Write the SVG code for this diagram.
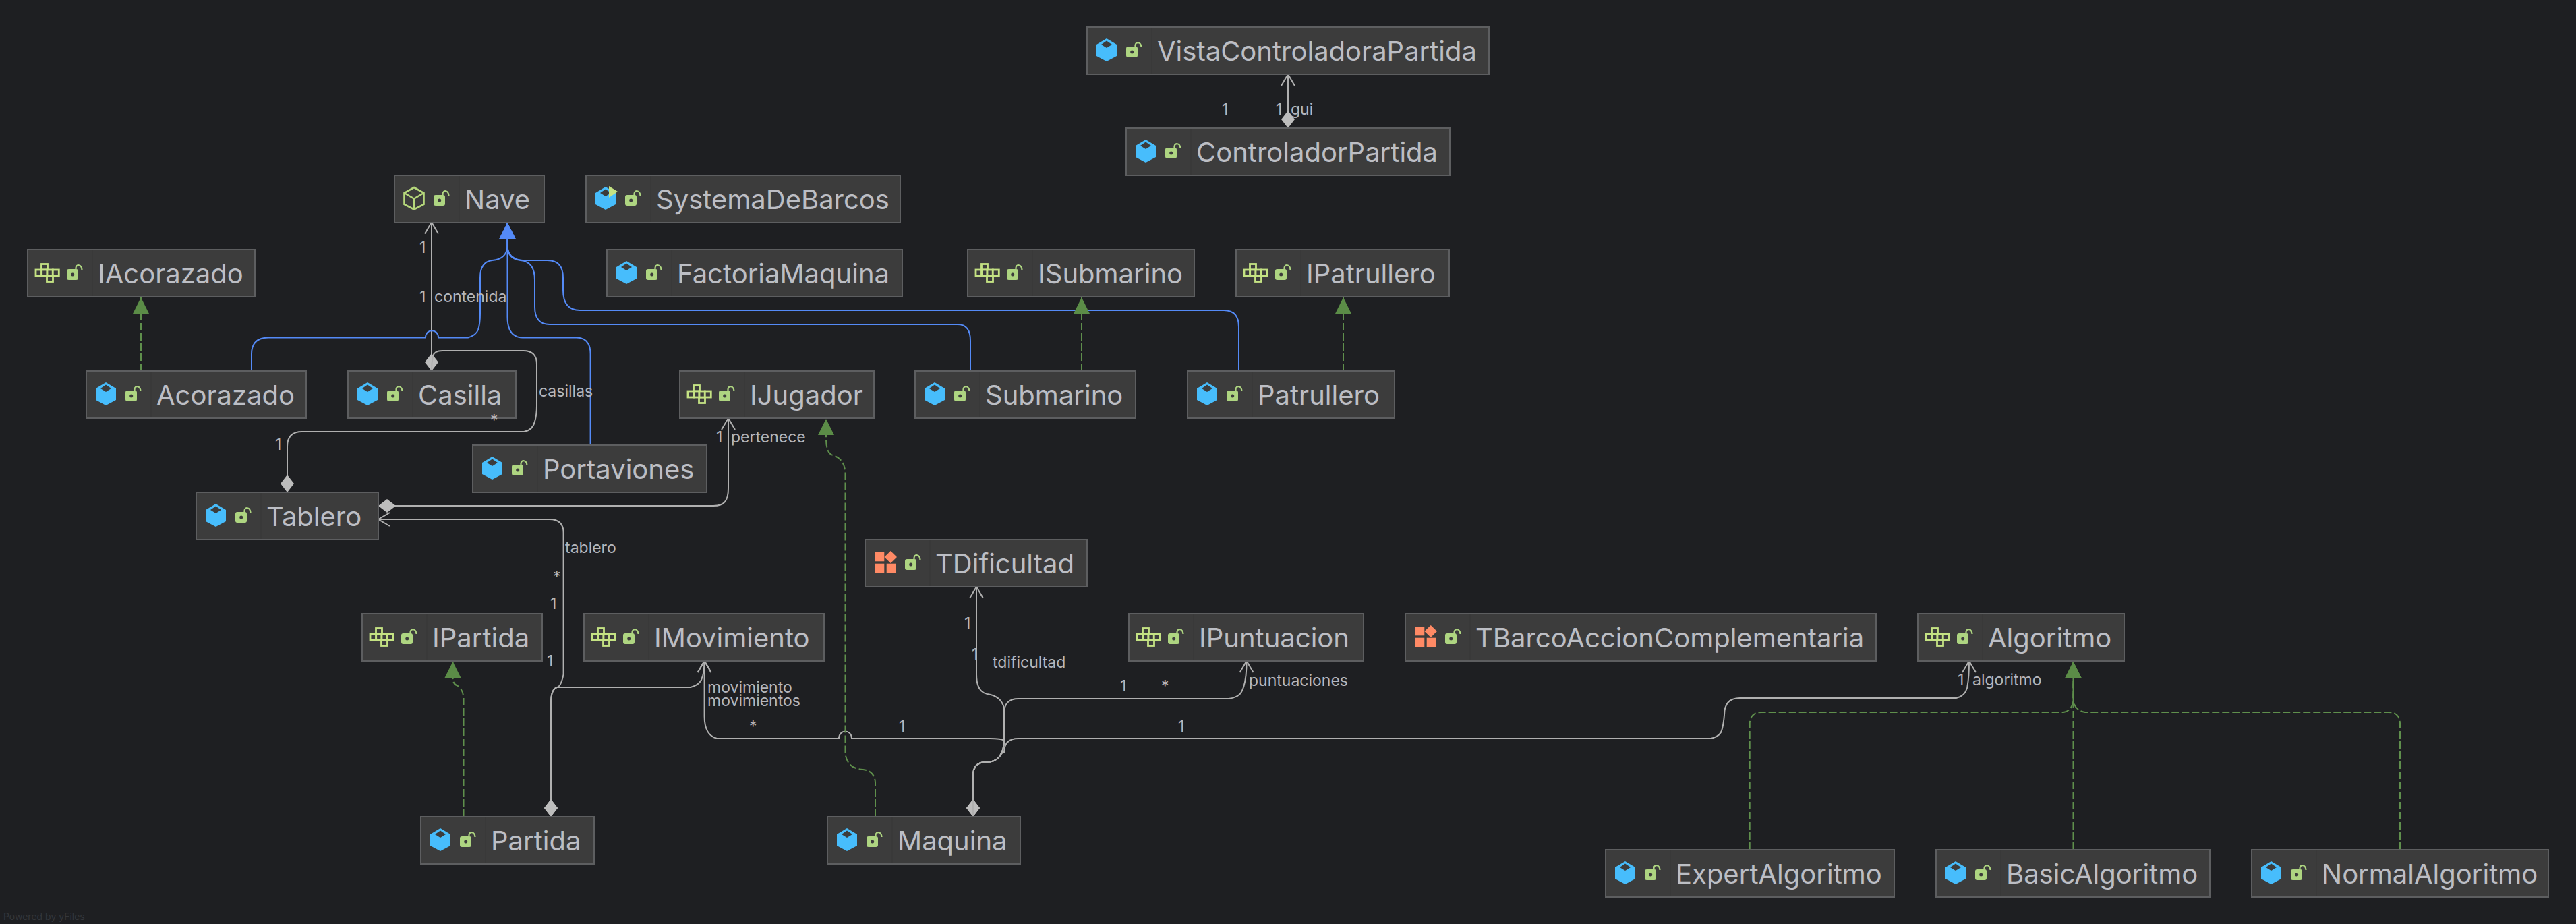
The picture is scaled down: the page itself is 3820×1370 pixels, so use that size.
<svg xmlns="http://www.w3.org/2000/svg" xmlns:xlink="http://www.w3.org/1999/xlink" width="3820" height="1370" viewBox="0 0 3820 1370">
<style>
.bg{fill:#1e1f22}
.box{fill:#3c3c3c;stroke:#5d5e60;stroke-width:2}
.sep{stroke:#383838;stroke-width:1.5}
.name{font:400 40px Inter,"Liberation Sans",sans-serif;fill:#bcbec4}
.lab{font:400 23px Inter,"Liberation Sans",sans-serif;fill:#b4b6bc}
.wm{font:400 14px Inter,"Liberation Sans",sans-serif;fill:#34363a}
.assoc{fill:none;stroke:#b0b0b0;stroke-width:2}
.inh{fill:none;stroke:#548af7;stroke-width:2}
.real{fill:none;stroke:#5f8f4c;stroke-width:2;stroke-dasharray:11 4}
</style>
<defs>
<marker id="open" markerUnits="userSpaceOnUse" markerWidth="24" markerHeight="26" viewBox="0 -13 24 26" refX="20" refY="0" orient="auto"><path d="M3,-10 L20,0 L3,10" fill="none" stroke="#b0b0b0" stroke-width="2"/></marker>
<marker id="dia" markerUnits="userSpaceOnUse" markerWidth="30" markerHeight="24" viewBox="0 -12 30 24" refX="1" refY="0" orient="auto"><path d="M1,0 L14,-10 L27,0 L14,10Z" fill="#bdbdbd"/></marker>
<marker id="tblue" markerUnits="userSpaceOnUse" markerWidth="26" markerHeight="26" viewBox="0 -13 26 26" refX="24" refY="0" orient="auto"><path d="M0,-12 L24,0 L0,12Z" fill="#548af7"/></marker>
<marker id="tgreen" markerUnits="userSpaceOnUse" markerWidth="26" markerHeight="26" viewBox="0 -13 26 26" refX="24" refY="0" orient="auto"><path d="M0,-12 L24,0 L0,12Z" fill="#5b8c47"/></marker>
<g id="lock"><rect x="58" y="29" width="17" height="16" rx="3" fill="#aed581"/><circle cx="66.7" cy="37" r="2.5" fill="#3c3c3c"/><path d="M71.5,29 V27 C72,21.5 80,21.5 80.5,30" fill="none" stroke="#aed581" stroke-width="2.2"/></g>
<g id="class"><path d="M29,17 L44,26 V43 L29,51 L14,43 V26Z" fill="#47bdfc"/><path d="M29,20.5 L37,26 L29,31 L21,26Z" fill="#3c3c3c"/><use href="#lock"/></g>
<g id="abstract"><path d="M29,18 L43.5,26 V43 L29,50.5 L14.5,43 V26Z M14.5,26 L29,34.5 L43.5,26 M29,34.5 V50.5" fill="none" stroke="#b5d77b" stroke-width="2.6"/><use href="#lock"/></g>
<g id="main"><path d="M29,17 L44,26 V43 L29,51 L14,43 V26Z" fill="#47bdfc"/><path d="M29,20.5 L37,26 L29,31 L21,26Z" fill="#3c3c3c"/><path d="M34,16 L47,24 L34,33Z" fill="#c4e283"/><use href="#lock"/></g>
<g id="iface"><g fill="#3c3c3c" stroke="#c4e283" stroke-width="2.8"><rect x="20.5" y="21.5" width="9" height="8.5"/><rect x="28.5" y="39" width="9" height="8.5"/><rect x="12" y="30" width="8.7" height="9"/><rect x="20.7" y="30" width="8.3" height="9"/><rect x="29" y="30" width="8.3" height="9"/><rect x="37.3" y="30" width="9" height="9"/></g><use href="#lock"/></g>
<g id="enum"><g fill="#ff8a65"><rect x="15" y="19" width="13.3" height="13.3"/><rect x="15" y="35.7" width="13.3" height="13.3"/><rect x="31.7" y="35.7" width="13.3" height="13.3"/><path d="M37.7,17 L47,26 L37.7,35 L28.4,26Z"/></g><use href="#lock" x="1"/></g>
</defs>
<rect class="bg" width="3820" height="1370"/>
<g id="connectors">
<path class="assoc" d="M1910,190 V110" marker-start="url(#dia)" marker-end="url(#open)"/>
<path class="assoc" d="M640,550 V329.5" marker-start="url(#dia)" marker-end="url(#open)"/>
<path class="assoc" d="M426,730 V662 Q426,640 448,640 H777 Q790,638 793,625 Q796,615 796,602 V540 Q796,520 776,520 H656 Q644,520 642,528 Q640,538 640,550" marker-start="url(#dia)"/>
<path class="assoc" d="M561,750 H1058 Q1070,750 1075,744 Q1080,738 1080,724 V620" marker-start="url(#dia)" marker-end="url(#open)"/>
<path class="assoc" d="M817,1211 V1042 Q817,1022 826,1019 Q832,1018 835.6,1000 V790 Q835.6,770 815,770 H561" marker-start="url(#dia)" marker-end="url(#open)"/>
<path class="assoc" d="M817,1211 V1042 Q817,1022 826,1019 H1024 Q1036,1016 1040,1008 Q1044.6,998 1044.6,980" marker-start="url(#dia)" marker-end="url(#open)"/>
<path class="assoc" d="M1443,1211 V1150 Q1443,1130 1462,1130 Q1476,1130 1482,1122 Q1489,1112 1489,1098 Q1485,1095 1468,1095 H1263 C1263,1081 1244,1081 1244,1095 H1063 Q1044.6,1090 1044.6,1062 V980" marker-start="url(#dia)" marker-end="url(#open)"/>
<path class="assoc" d="M1443,1211 V1150 Q1443,1130 1462,1130 Q1476,1130 1482,1122 Q1489,1112 1489,1098 V1050 Q1485,1032 1464,1029 Q1448,1026 1448,1000 V870" marker-start="url(#dia)" marker-end="url(#open)"/>
<path class="assoc" d="M1443,1211 V1150 Q1443,1130 1462,1130 Q1476,1130 1482,1122 Q1489,1112 1489,1098 V1056 Q1490,1036 1510,1036 H1822 Q1838,1034 1842,1024 Q1848.6,1010 1848.6,980" marker-end="url(#open)"/>
<path class="assoc" d="M1443,1211 V1150 Q1443,1130 1462,1130 Q1476,1130 1482,1122 Q1489,1112 1489,1116 Q1489,1095 1510,1095 H2537 Q2552,1092 2554,1080 Q2556,1072 2557,1060 Q2557,1035 2580,1035 H2901 Q2914,1032 2917,1020 Q2920,1006 2920,980" marker-end="url(#open)"/>
<path class="inh" d="M373,550 V525 Q373,500.5 398,500.5 H631 C631,486.7 650,486.7 650,500.5 H694 Q706,497 709,489 Q712,480 712,465 V412 Q712,388 730,386 Q752,384 752.5,364 V330" marker-end="url(#tblue)"/>
<path class="inh" d="M875.6,660 V525 Q875.6,500.5 855,500.5 H775 Q752.5,500 752.5,470 V330" marker-end="url(#tblue)"/>
<path class="inh" d="M1439,550 V505 Q1439,481 1420,481 H815 Q793,481 793,455 V415 Q793,388 772,386 Q752.5,384 752.5,364 V330" marker-end="url(#tblue)"/>
<path class="inh" d="M1837,550 V485 Q1837,460 1815,460 H860 Q835,460 835,430 V412 Q835,386 812,386 H775 Q752.5,384 752.5,364 V330" marker-end="url(#tblue)"/>
<path class="real" d="M209,550 V441" marker-end="url(#tgreen)"/>
<path class="real" d="M1604,550 V441" marker-end="url(#tgreen)"/>
<path class="real" d="M1992,550 V441" marker-end="url(#tgreen)"/>
<path class="real" d="M1298,1211 V1160 Q1297,1143 1280,1141 Q1256,1140 1253.5,1117 V700 Q1252,680 1235,675 Q1225,672 1225,650 V621" marker-end="url(#tgreen)"/>
<path class="real" d="M687.5,1211 V1034 Q686,1020 677,1016 Q671.5,1014 671.5,1004 V981" marker-end="url(#tgreen)"/>
<path class="real" d="M3074.5,1260 V981" marker-end="url(#tgreen)"/>
<path class="real" d="M2594.7,1260 V1072 Q2596,1056 2612,1056 H3060 Q3072,1054 3074.5,1040 V981" marker-end="url(#tgreen)"/>
<path class="real" d="M3559,1260 V1072 Q3558,1056 3542,1056 H3092 Q3078,1054 3074.5,1040 V981" marker-end="url(#tgreen)"/>
</g>
<g id="n-vista" transform="translate(1612,40)"><rect class="box" width="596" height="70"/><line class="sep" x1="96" x2="96" y1="1" y2="69"/><use href="#class"/><text class="name" x="104" y="49.5">VistaControladoraPartida</text></g>
<g id="n-controlador" transform="translate(1670,190)"><rect class="box" width="480" height="70"/><line class="sep" x1="96" x2="96" y1="1" y2="69"/><use href="#class"/><text class="name" x="104" y="49.5">ControladorPartida</text></g>
<g id="n-nave" transform="translate(585,260)"><rect class="box" width="222" height="70"/><line class="sep" x1="96" x2="96" y1="1" y2="69"/><use href="#abstract"/><text class="name" x="104" y="49.5">Nave</text></g>
<g id="n-systema" transform="translate(869,260)"><rect class="box" width="466" height="70"/><line class="sep" x1="96" x2="96" y1="1" y2="69"/><use href="#main"/><text class="name" x="104" y="49.5">SystemaDeBarcos</text></g>
<g id="n-iacorazado" transform="translate(41,370)"><rect class="box" width="337" height="70"/><line class="sep" x1="96" x2="96" y1="1" y2="69"/><use href="#iface"/><text class="name" x="104" y="49.5">IAcorazado</text></g>
<g id="n-factoria" transform="translate(900,370)"><rect class="box" width="438" height="70"/><line class="sep" x1="96" x2="96" y1="1" y2="69"/><use href="#class"/><text class="name" x="104" y="49.5">FactoriaMaquina</text></g>
<g id="n-isubmarino" transform="translate(1435,370)"><rect class="box" width="336" height="70"/><line class="sep" x1="96" x2="96" y1="1" y2="69"/><use href="#iface"/><text class="name" x="104" y="49.5">ISubmarino</text></g>
<g id="n-ipatrullero" transform="translate(1833,370)"><rect class="box" width="316" height="70"/><line class="sep" x1="96" x2="96" y1="1" y2="69"/><use href="#iface"/><text class="name" x="104" y="49.5">IPatrullero</text></g>
<g id="n-acorazado" transform="translate(128,550)"><rect class="box" width="326" height="70"/><line class="sep" x1="96" x2="96" y1="1" y2="69"/><use href="#class"/><text class="name" x="104" y="49.5">Acorazado</text></g>
<g id="n-casilla" transform="translate(516,550)"><rect class="box" width="249" height="70"/><line class="sep" x1="96" x2="96" y1="1" y2="69"/><use href="#class"/><text class="name" x="104" y="49.5">Casilla</text></g>
<g id="n-ijugador" transform="translate(1008,550)"><rect class="box" width="288" height="70"/><line class="sep" x1="96" x2="96" y1="1" y2="69"/><use href="#iface"/><text class="name" x="104" y="49.5">IJugador</text></g>
<g id="n-submarino" transform="translate(1357,550)"><rect class="box" width="327" height="70"/><line class="sep" x1="96" x2="96" y1="1" y2="69"/><use href="#class"/><text class="name" x="104" y="49.5">Submarino</text></g>
<g id="n-patrullero" transform="translate(1761,550)"><rect class="box" width="307" height="70"/><line class="sep" x1="96" x2="96" y1="1" y2="69"/><use href="#class"/><text class="name" x="104" y="49.5">Patrullero</text></g>
<g id="n-portaviones" transform="translate(701,660)"><rect class="box" width="347" height="70"/><line class="sep" x1="96" x2="96" y1="1" y2="69"/><use href="#class"/><text class="name" x="104" y="49.5">Portaviones</text></g>
<g id="n-tablero" transform="translate(291,730)"><rect class="box" width="270" height="70"/><line class="sep" x1="96" x2="96" y1="1" y2="69"/><use href="#class"/><text class="name" x="104" y="49.5">Tablero</text></g>
<g id="n-tdificultad" transform="translate(1283,800)"><rect class="box" width="329" height="70"/><line class="sep" x1="96" x2="96" y1="1" y2="69"/><use href="#enum"/><text class="name" x="104" y="49.5">TDificultad</text></g>
<g id="n-ipartida" transform="translate(537,910)"><rect class="box" width="267" height="70"/><line class="sep" x1="96" x2="96" y1="1" y2="69"/><use href="#iface"/><text class="name" x="104" y="49.5">IPartida</text></g>
<g id="n-imovimiento" transform="translate(866,910)"><rect class="box" width="356" height="70"/><line class="sep" x1="96" x2="96" y1="1" y2="69"/><use href="#iface"/><text class="name" x="104" y="49.5">IMovimiento</text></g>
<g id="n-ipuntuacion" transform="translate(1674,910)"><rect class="box" width="348" height="70"/><line class="sep" x1="96" x2="96" y1="1" y2="69"/><use href="#iface"/><text class="name" x="104" y="49.5">IPuntuacion</text></g>
<g id="n-tbarco" transform="translate(2084,910)"><rect class="box" width="698" height="70"/><line class="sep" x1="96" x2="96" y1="1" y2="69"/><use href="#enum"/><text class="name" x="104" y="49.5">TBarcoAccionComplementaria</text></g>
<g id="n-algoritmo" transform="translate(2844,910)"><rect class="box" width="306" height="70"/><line class="sep" x1="96" x2="96" y1="1" y2="69"/><use href="#iface"/><text class="name" x="104" y="49.5">Algoritmo</text></g>
<g id="n-partida" transform="translate(624,1211)"><rect class="box" width="257" height="70"/><line class="sep" x1="96" x2="96" y1="1" y2="69"/><use href="#class"/><text class="name" x="104" y="49.5">Partida</text></g>
<g id="n-maquina" transform="translate(1227,1211)"><rect class="box" width="286" height="70"/><line class="sep" x1="96" x2="96" y1="1" y2="69"/><use href="#class"/><text class="name" x="104" y="49.5">Maquina</text></g>
<g id="n-expert" transform="translate(2381,1260)"><rect class="box" width="428" height="70"/><line class="sep" x1="96" x2="96" y1="1" y2="69"/><use href="#class"/><text class="name" x="104" y="49.5">ExpertAlgoritmo</text></g>
<g id="n-basic" transform="translate(2871,1260)"><rect class="box" width="406" height="70"/><line class="sep" x1="96" x2="96" y1="1" y2="69"/><use href="#class"/><text class="name" x="104" y="49.5">BasicAlgoritmo</text></g>
<g id="n-normal" transform="translate(3339,1260)"><rect class="box" width="440" height="70"/><line class="sep" x1="96" x2="96" y1="1" y2="69"/><use href="#class"/><text class="name" x="104" y="49.5">NormalAlgoritmo</text></g>
<g id="labels" class="lab">
<text x="1812" y="170">1</text><text x="1892" y="170">1</text><text x="1914" y="170">gui</text>
<text x="622" y="375">1</text><text x="622" y="448">1</text><text x="644" y="448">contenida</text>
<text x="799" y="588">casillas</text><text x="727" y="631">*</text><text x="408" y="667">1</text>
<text x="1062" y="656">1</text><text x="1084" y="656">pertenece</text>
<text x="838" y="820">tablero</text><text x="820" y="863">*</text><text x="816" y="903">1</text><text x="811" y="988">1</text>
<text x="1049" y="1027">movimiento</text><text x="1049" y="1047">movimientos</text><text x="1111" y="1085">*</text>
<text x="1430" y="932">1</text><text x="1441" y="978">1</text><text x="1472" y="990">tdificultad</text>
<text x="1661" y="1025">1</text><text x="1722" y="1025">*</text><text x="1852" y="1017">puntuaciones</text>
<text x="1333" y="1085">1</text><text x="1747" y="1085">1</text>
<text x="2903" y="1016">1</text><text x="2925" y="1016">algoritmo</text>
</g>
<text class="wm" x="5" y="1364">Powered by yFiles</text>
</svg>
